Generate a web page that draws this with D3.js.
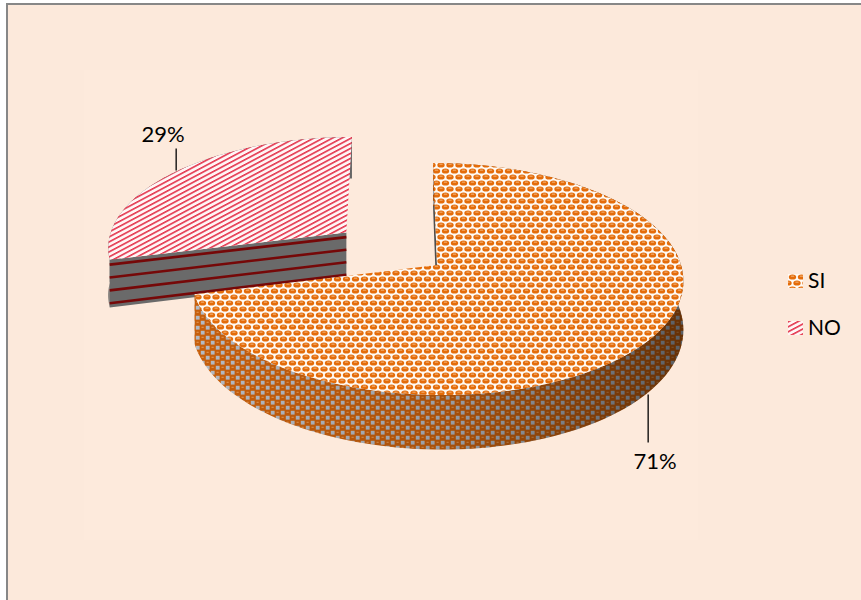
<!DOCTYPE html>
<html>
<head>
<meta charset="utf-8">
<script src="https://cdn.jsdelivr.net/npm/d3@7"></script>
<style>
  html, body { margin: 0; padding: 0; background: #ffffff; }
  svg { display: block; font-family: Lato, "Open Sans", sans-serif; }
</style>
</head>
<body>
<svg id="chart" width="861" height="600"></svg>
<script>
// ---- data ----
const categories = ["SI", "NO"];
const values = [71, 29];
const explodeBy = [0, 0.48];          // radial pull-out of each slice, in radius units

// ---- view / projection settings ----
const CAM_X = 400, X0 = 37;            // camera axis and pie centre offset (px)
const RAD = 244, CY = 265, HY = 114.3; // horizontal radius, centre row, depth scale
const KP = 0.1207;                     // perspective strength
const THICK = 48;                      // pie thickness (px at centre depth)

function project(u, w, h) {
  const D = 1 + KP * w;
  return [CAM_X + (RAD * u + X0) / D, CY - HY * w / D + h / D];
}

const svg = d3.select("#chart");
const defs = svg.append("defs");

// ---- fill patterns ----
// orange dotted top of "SI"
const TW = 9, TH = 12;
const pSiTop = defs.append("pattern").attr("id", "siTop")
  .attr("patternUnits", "userSpaceOnUse").attr("width", TW).attr("height", TH);
pSiTop.append("rect").attr("width", TW).attr("height", TH).attr("fill", "#fffaf4");
[[TW / 2, TH / 4], [0, 3 * TH / 4], [TW, 3 * TH / 4], [0, -TH / 4], [TW, -TH / 4], [TW / 2, 5 * TH / 4]].forEach(([x, y]) => {
  pSiTop.append("ellipse").attr("cx", x).attr("cy", y).attr("rx", 3.7).attr("ry", 2.6).attr("fill", "#e46c0a");
  pSiTop.append("rect").attr("x", x - 1.6).attr("y", y - 1.3).attr("width", 3.2).attr("height", 0.9).attr("fill", "#f6bb86");
});

// checkered side of "SI"
const pSiSide = defs.append("pattern").attr("id", "siSide")
  .attr("patternUnits", "userSpaceOnUse").attr("width", 10).attr("height", 10);
pSiSide.append("rect").attr("width", 10).attr("height", 10).attr("fill", "#c75f0c");
pSiSide.append("rect").attr("x", 0.8).attr("y", 0.8).attr("width", 3.8).attr("height", 3.8).attr("fill", "#b3bbc5");
pSiSide.append("rect").attr("x", 5.8).attr("y", 5.8).attr("width", 3.8).attr("height", 3.8).attr("fill", "#b3bbc5");
pSiSide.append("rect").attr("x", 6.5).attr("y", 1.8).attr("width", 2.2).attr("height", 0.9).attr("fill", "#eaa060");
pSiSide.append("rect").attr("x", 1.5).attr("y", 6.8).attr("width", 2.2).attr("height", 0.9).attr("fill", "#eaa060");

// red diagonal hatch of "NO"
const pNo = defs.append("pattern").attr("id", "noTop")
  .attr("patternUnits", "userSpaceOnUse").attr("width", 4.4).attr("height", 10)
  .attr("patternTransform", "rotate(62)");
pNo.append("rect").attr("width", 4.4).attr("height", 10).attr("fill", "#fff6f6");
pNo.append("rect").attr("width", 1.6).attr("height", 10).attr("fill", "#e4374f");

// shading across the SI side wall
const gShade = defs.append("linearGradient").attr("id", "sideShade")
  .attr("gradientUnits", "userSpaceOnUse").attr("x1", 190).attr("x2", 690).attr("y1", 0).attr("y2", 0);
gShade.append("stop").attr("offset", 0).attr("stop-color", "#000").attr("stop-opacity", 0.0);
gShade.append("stop").attr("offset", 0.5).attr("stop-color", "#000").attr("stop-opacity", 0.15);
gShade.append("stop").attr("offset", 1).attr("stop-color", "#000").attr("stop-opacity", 0.5);

// ---- background ----
svg.append("rect").attr("x", 7).attr("y", 4).attr("width", 900).attr("height", 650)
  .attr("fill", "#fce9db").attr("stroke", "#878787").attr("stroke-width", 2);
svg.append("rect").attr("x", 84).attr("y", 70).attr("width", 614).attr("height", 470)
  .attr("fill", "#fdeadc");

// ---- slices ----
const pie = d3.pie().sort(null).value(d => d);
const arcs = pie(values);
const total = d3.sum(values);
const pct = d3.format(".0%");
const line = d3.line();

function sliceGeom(a, i) {
  const mid = (a.startAngle + a.endAngle) / 2;
  const ou = explodeBy[i] * Math.sin(mid), ow = explodeBy[i] * Math.cos(mid);
  const pt = (ang, r, h) => project(ou + r * Math.sin(ang), ow + r * Math.cos(ang), h);
  const n = 120;
  const angs = d3.range(n + 1).map(k => a.startAngle + (a.endAngle - a.startAngle) * k / n);
  return {
    mid, pt,
    top: [pt(0, 0, 0), ...angs.map(t => pt(t, 1, 0))],
    side: [...angs.map(t => pt(t, 1, 0)), ...angs.slice().reverse().map(t => pt(t, 1, THICK))],
    cut: ang => [pt(0, 0, 0), pt(ang, 1, 0), pt(ang, 1, THICK), pt(0, 0, THICK)]
  };
}

const g = svg.append("g");
const geoms = arcs.map(sliceGeom);

// NO slice (behind)
{
  const s = geoms[1], a = arcs[1];
  g.append("path").attr("d", line(s.side) + "Z").attr("fill", "#666666");
  const cut = s.cut(a.startAngle);
  g.append("path").attr("d", line(cut) + "Z").attr("fill", "#6a6a6a");
  [0.1, 0.37, 0.64, 0.91].forEach(f => {
    const p0 = d3.interpolate(cut[0], cut[3])(f);
    const p1 = d3.interpolate(cut[1], cut[2])(f);
    g.append("path").attr("d", line([p0, p1])).attr("stroke", "#760808").attr("stroke-width", 2.6);
  });
  g.append("path").attr("d", line(s.top) + "Z").attr("fill", "url(#noTop)");
}

// SI slice (front)
{
  const s = geoms[0], a = arcs[0];
  g.append("path").attr("d", line(s.cut(a.startAngle)) + "Z").attr("fill", "#4e4e4e");
  g.append("path").attr("d", line(s.side) + "Z").attr("fill", "url(#siSide)");
  g.append("path").attr("d", line(s.side) + "Z").attr("fill", "url(#sideShade)");
  g.append("path").attr("d", line(s.top) + "Z").attr("fill", "url(#siTop)");
}

// ---- data labels with leader lines ----
const labelLayout = [
  { h: THICK, len: 50, dx: 7, dy: 27 },   // SI: below the front wall
  { h: 0, len: -23, dx: -13, dy: -7 }      // NO: above the rim
];
arcs.forEach((a, i) => {
  const L = labelLayout[i];
  const [x, y] = geoms[i].pt(geoms[i].mid, 1, L.h);
  svg.append("line").attr("x1", x).attr("y1", y + (L.len > 0 ? 2 : -1))
    .attr("x2", x).attr("y2", y + L.len).attr("stroke", "#000").attr("stroke-width", 1.3);
  svg.append("text").attr("x", x + L.dx).attr("y", y + L.len + L.dy)
    .attr("text-anchor", "middle").attr("font-size", 22).attr("fill", "#000")
    .text(pct(a.data / total));
});

// ---- legend ----
const legendFill = ["url(#siTop)", "url(#noTop)"];
const lg = svg.append("g").attr("transform", "translate(788,274)");
categories.forEach((c, i) => {
  const row = lg.append("g").attr("transform", `translate(0,${i * 47})`);
  row.append("rect").attr("width", 15).attr("height", 14).attr("fill", legendFill[i]);
  row.append("text").attr("x", 20).attr("y", 14).attr("font-size", 21).attr("fill", "#000").text(c);
});
</script>
</body>
</html>
